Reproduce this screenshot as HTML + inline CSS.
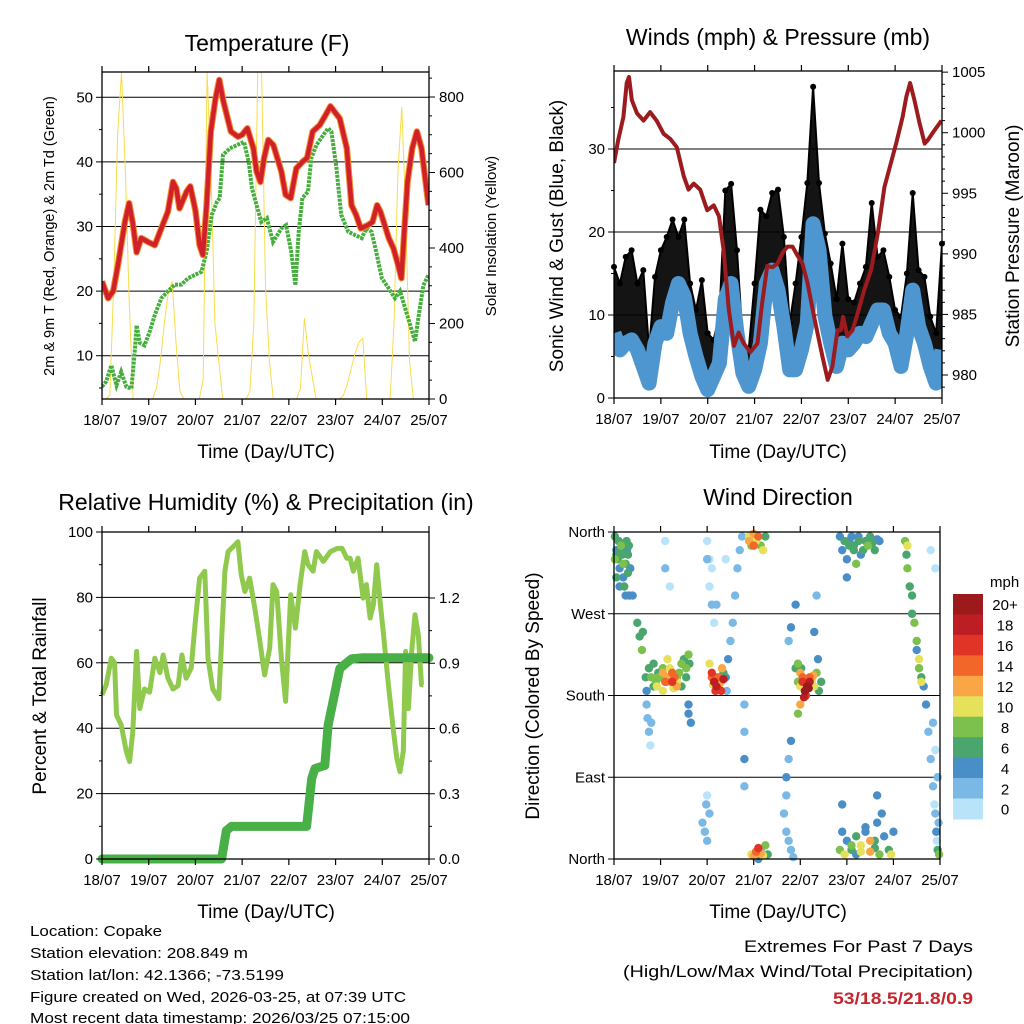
<!DOCTYPE html>
<html><head><meta charset="utf-8"><style>
html,body{margin:0;padding:0;background:#fff;}
svg{display:block;font-family:"Liberation Sans",sans-serif;}
</style></head><body>
<svg id="chart" width="1024" height="1024" viewBox="0 0 1024 1024" xmlns="http://www.w3.org/2000/svg">
<rect width="1024" height="1024" fill="#fff"/>
<g id="layer"></g>
<text x="267" y="51" font-size="23" text-anchor="middle">Temperature (F)</text>
<text x="778" y="45" font-size="23" text-anchor="middle">Winds (mph) &amp; Pressure (mb)</text>
<text x="266" y="510" font-size="23" text-anchor="middle">Relative Humidity (%) &amp; Precipitation (in)</text>
<text x="778" y="505" font-size="23" text-anchor="middle">Wind Direction</text>
<text x="266" y="458" font-size="19" text-anchor="middle">Time (Day/UTC)</text>
<text x="778" y="458" font-size="19" text-anchor="middle">Time (Day/UTC)</text>
<text x="266" y="918" font-size="19" text-anchor="middle">Time (Day/UTC)</text>
<text x="778" y="918" font-size="19" text-anchor="middle">Time (Day/UTC)</text>
<text transform="translate(54,236) rotate(-90)" font-size="14.5" text-anchor="middle">2m &amp; 9m T (Red, Orange) &amp; 2m Td (Green)</text>
<text transform="translate(496,236) rotate(-90)" font-size="15" text-anchor="middle">Solar Insolation (Yellow)</text>
<text transform="translate(563,236) rotate(-90)" font-size="19" text-anchor="middle">Sonic Wind &amp; Gust (Blue, Black)</text>
<text transform="translate(1019,236) rotate(-90)" font-size="19" text-anchor="middle">Station Pressure (Maroon)</text>
<text transform="translate(46,696) rotate(-90)" font-size="19" text-anchor="middle">Percent &amp; Total Rainfall</text>
<text transform="translate(539,696) rotate(-90)" font-size="19" text-anchor="middle">Direction (Colored By Speed)</text>
<g font-size="15">
<text x="30" y="936" textLength="132" lengthAdjust="spacingAndGlyphs">Location: Copake</text>
<text x="30" y="958" textLength="218" lengthAdjust="spacingAndGlyphs">Station elevation: 208.849 m</text>
<text x="30" y="980" textLength="254" lengthAdjust="spacingAndGlyphs">Station lat/lon: 42.1366; -73.5199</text>
<text x="30" y="1002" textLength="376" lengthAdjust="spacingAndGlyphs">Figure created on Wed, 2026-03-25, at 07:39 UTC</text>
<text x="30" y="1023" textLength="380" lengthAdjust="spacingAndGlyphs">Most recent data timestamp: 2026/03/25 07:15:00</text>
</g>
<text x="973" y="952" font-size="17" text-anchor="end" textLength="229" lengthAdjust="spacingAndGlyphs">Extremes For Past 7 Days</text>
<text x="973" y="977" font-size="17" text-anchor="end" textLength="350" lengthAdjust="spacingAndGlyphs">(High/Low/Max Wind/Total Precipitation)</text>
<text x="973" y="1004" font-size="17" font-weight="bold" fill="#c4262e" text-anchor="end" textLength="140" lengthAdjust="spacingAndGlyphs">53/18.5/21.8/0.9</text>
</svg>
<script>
// ---------- data ----------
const dayLabels = ["18/07","19/07","20/07","21/07","22/07","23/07","24/07","25/07"];
const tempTicks = [10,20,30,40,50];
const solarTicks = [0,200,400,600,800];
const windTicks = [0,10,20,30];
const presTicks = [980,985,990,995,1000,1005];
const rhTicks = [0,20,40,60,80,100];
const rainTicks = ["0.0","0.3","0.6","0.9","1.2"];
const dirTicks = ["North","East","South","West","North"];
const speedLabels = ["0","2","4","6","8","10","12","14","16","18","20+"];

const tempTimes = [0,0.13,0.24,0.34,0.49,0.58,0.66,0.74,0.84,0.99,1.13,1.27,1.41,1.52,1.59,1.66,1.81,1.89,2.0,2.09,2.16,2.24,2.33,2.43,2.51,2.6,2.76,2.91,3.0,3.11,3.24,3.31,3.39,3.47,3.56,3.67,3.84,3.93,4.04,4.16,4.29,4.39,4.51,4.66,4.79,4.89,5.09,5.24,5.34,5.44,5.54,5.69,5.79,5.89,5.96,6.03,6.14,6.24,6.34,6.41,6.48,6.54,6.64,6.74,6.84,6.99];
const tempRed = [21.5,18.9,20,24,30.7,33.6,30.5,26,28.2,27.6,27.1,29.7,32.3,36.9,35.9,32.8,35.4,36.2,32.5,27.1,25.6,33.3,44.7,49.8,52.7,49.3,44.7,43.9,44.2,45.2,42.1,38.5,36.9,40.6,43.4,42.6,38.5,34.9,34.4,39,40,40.6,44.7,45.7,47.3,48.6,46.7,42.1,33.3,31.8,29.7,30.2,30.7,33.3,32.3,30.7,28.2,26.6,24,22,30.2,36.9,42.1,44.7,42.1,33.3,36.9,30.2,34.9];
const dewTimes = [0,0.09,0.2,0.31,0.41,0.52,0.63,0.7,0.74,0.81,0.91,1.02,1.13,1.27,1.41,1.56,1.7,1.84,1.99,2.13,2.24,2.35,2.46,2.52,2.59,2.74,2.89,3.04,3.14,3.21,3.31,3.41,3.53,3.66,3.84,3.94,4.05,4.14,4.21,4.29,4.41,4.48,4.59,4.74,4.84,4.91,5.02,5.12,5.27,5.41,5.56,5.66,5.77,5.87,5.99,6.14,6.27,6.38,6.49,6.6,6.7,6.77,6.88,6.99];
const dewGreen = [5.2,6,8.5,5.4,7.5,5.2,4.9,10.6,14.7,12,11.6,13.7,16.3,18.9,20,21,21,22,22.5,23,26.1,31.8,33.8,34.4,41.1,42.1,42.6,43.1,40,35.9,33.3,30.7,31.3,27.6,29.7,30.2,26.1,20.9,29.2,34.4,35.4,40.6,42.6,44.2,45.2,44.7,39,31.8,29.2,28.7,28.2,29.7,29.2,26.1,22,20.4,18.9,20,17.3,14.7,12.2,15.8,20.9,22.5,22];
const solar = [
0,0,10,300,700,866,600,250,0,0,0,0,
0,0,30,100,200,280,311,150,20,0,0,0,
0,0,50,866,600,200,100,0,0,0,0,0,
0,0,20,200,866,866,300,100,0,0,0,0,
0,0,0,30,214,120,60,0,0,0,0,0,
0,0,10,40,80,120,150,161,0,0,0,0,
0,0,0,200,600,774,500,100,0,0,0,0,
0];
const presTimes = [0,0.09,0.2,0.27,0.32,0.38,0.49,0.63,0.77,0.91,1.06,1.2,1.34,1.49,1.59,1.7,1.84,1.99,2.13,2.24,2.34,2.45,2.56,2.66,2.77,2.91,3.06,3.16,3.27,3.38,3.49,3.6,3.7,3.81,3.91,4.02,4.13,4.24,4.34,4.45,4.56,4.66,4.77,4.84,4.89,4.98,5.09,5.2,5.34,5.49,5.63,5.77,5.91,6.02,6.16,6.24,6.32,6.41,6.52,6.63,6.7,6.84,6.99];
const pressure = [997.5,999.4,1001.3,1004.1,1004.6,1002.7,1001.6,1001,1001.7,1001,999.9,999.5,998.8,996.4,995.3,995.8,995.3,993.6,994,993.1,990.3,985.4,982.4,983.5,982.6,981.9,982.6,985.9,989,988.9,989.2,990.1,990.6,990.6,989.9,989.2,987.6,985.4,983.5,981.5,979.6,980.7,983.7,983.7,984.8,983.2,983.7,985.1,987,988.7,991.7,995.5,997.5,999.1,1001.3,1003,1004.1,1002.7,1000.8,999.1,999.4,1000.2,1001];
const windSpeed = [7.8,5.8,6.6,7,5.8,3.8,1.8,6.6,8.6,7.8,11.5,13.8,12.2,7.8,5,2.6,1,2.6,4.2,11.9,13.8,7.8,3,1.4,3.4,6.6,13.8,15.4,13,8.6,3.4,3.4,5.8,9,21,17.8,9.9,6.6,3.8,6.6,5.8,6.6,7.8,7.4,9,10.6,10.6,7.8,6.6,3.8,7.8,13,8.6,6.6,3.8,1.8,5.8];
const windGust = [15.8,13.8,17,17.8,13.8,15.4,5.8,14.6,17.8,19.4,21.5,19.4,21.5,13.8,10.6,14.2,7.8,7,10,25,25.8,17.8,6.6,5.8,13.8,22.7,21.9,24.7,25.1,19.4,9,13.8,19.4,25.9,37.5,25.9,19.8,16.2,11.9,18.6,11.9,11.5,13.8,15.8,23.5,17,17.8,14.6,10.6,9.8,15,24.7,15.4,14.6,9.8,7.8,18.6];
const rhTimes = [0,0.09,0.2,0.27,0.31,0.41,0.52,0.59,0.66,0.74,0.81,0.91,1.02,1.13,1.24,1.31,1.41,1.52,1.63,1.71,1.8,1.91,1.99,2.09,2.2,2.27,2.37,2.5,2.63,2.7,2.84,2.91,2.98,3.06,3.16,3.27,3.38,3.48,3.59,3.66,3.74,3.84,3.93,4.04,4.14,4.24,4.34,4.41,4.52,4.59,4.74,4.89,5.04,5.14,5.24,5.31,5.38,5.48,5.59,5.66,5.74,5.81,5.88,5.96,6.02,6.13,6.24,6.31,6.38,6.45,6.5,6.56,6.63,6.7,6.77,6.84,6.88];
const rh = [50.2,53.3,61.4,60,44,41,32.9,29.8,39,63.5,46,52,51,61.4,57,62.4,55.3,52,53,62.4,55.3,58.4,71.6,85.9,88,61.4,52,49,88,94,96,97,87,81.8,85.9,76.7,66.5,56.3,64.5,83.9,81.8,61.4,48.2,80.8,70.6,83.9,94,90,88,94,91,94,95,95,92,92,88,92,79.8,83.9,73.7,77.8,90,77.8,69.6,53.3,39,30.8,26.7,32.9,63.5,46,63.5,74.7,68.6,53.3,53.3];
const rainTimes = [0,2.56,2.66,2.77,4.38,4.49,4.56,4.77,4.84,4.99,5.09,5.34,5.56,7.0];
const rain = [0,0,0.13,0.15,0.15,0.37,0.416,0.43,0.615,0.77,0.876,0.92,0.925,0.925];
const dirTimes = [0.02,0.05,0.08,0.1,0.12,0.15,0.18,0.2,0.22,0.25,0.28,0.3,0.33,0.02,0.05,0.27,0.12,0.4,
0.5,0.55,0.6,0.62,0.68,0.7,0.75,0.8,0.85,0.9,0.95,0.92,1.0,1.05,1.1,1.15,1.2,1.25,1.3,1.35,1.28,1.4,1.45,1.5,1.55,1.6,1.62,0.7,0.72,0.75,0.78,0.8,1.6,1.6,1.65,
2.05,2.1,2.15,2.2,2.18,2.25,2.3,2.35,2.4,2.42,2.45,2.5,2.55,2.6,2.65,2.7,2.75,
2.9,3.0,3.05,3.1,3.15,3.2,3.25,2.95,2.95,3.0,3.05,3.1,3.15,3.2,3.25,3.3,
1.9,1.95,2.0,2.05,1.98,2.0,
3.9,3.95,4.0,4.05,4.1,4.15,4.2,4.12,4.25,4.3,4.35,4.4,4.45,4.38,4.0,3.95,3.8,3.75,3.7,3.7,3.65,3.7,3.75,3.8,3.85,3.75,3.8,3.9,4.3,4.35,
4.85,4.9,4.95,5.0,5.05,5.1,5.15,5.2,5.25,5.3,5.4,5.45,5.5,5.6,5.7,5.0,
4.85,4.9,4.95,5.0,5.1,5.2,5.3,5.4,5.5,5.6,5.65,5.7,5.75,5.8,5.9,5.95,6.0,4.9,5.65,
6.25,6.3,6.28,6.4,6.45,6.5,6.55,6.6,6.65,6.7,6.75,6.8,6.85,6.9,6.92,6.95,6.98,
1.1,1.1,1.2,2.0,2.05,2.1,2.2,2.4,6.8,6.9,
0.05,0.1,0.15,0.2,0.25,0.85,0.95,1.05,1.15,1.25,1.35,1.45,1.05,1.15,1.25,1.35,1.45,1.55,
2.1,2.15,2.2,2.25,2.3,2.35,2.12,2.22,2.32,2.0,2.05,2.1,2.15,2.9,2.95,3.0,3.05,3.1,3.15,2.8,2.8,2.8,2.8,
4.0,4.05,4.1,4.15,4.2,4.25,4.08,4.18,4.28,3.95,4.02,4.22,5.05,5.15,5.25,5.35,5.55,5.65,5.1,5.2,5.3,5.4,5.5,5.6,
6.3,6.35,6.4,6.5,6.55,6.6,6.85,6.9,6.95,6.88,6.93,6.97,0.3,0.35,0.25,0.32];
const dirDeg = [355,340,330,350,320,345,335,310,300,325,340,315,290,330,310,350,300,290,
260,245,230,250,200,185,210,200,215,195,205,190,200,205,195,200,210,195,200,190,188,205,215,220,210,225,215,170,155,140,125,150,160,170,150,
215,200,195,190,185,200,195,205,200,185,220,240,260,290,320,340,355,
355,358,350,355,345,340,355,345,5,3,8,12,6,4,15,5,
40,30,20,50,60,70,
210,195,190,200,185,190,195,180,200,190,205,185,195,220,170,160,130,110,90,70,50,30,20,10,2,240,255,280,250,290,
355,340,350,330,345,355,340,325,350,335,350,345,355,340,350,310,
10,30,5,20,10,5,15,30,8,20,40,5,50,25,10,5,30,60,70,
350,345,335,290,260,240,220,200,190,170,140,110,80,50,30,10,5,
350,320,300,350,330,320,280,330,340,320,
335,350,340,325,345,190,200,185,195,205,200,190,210,220,205,195,215,200,
205,195,200,190,185,198,192,188,210,330,300,280,260,350,352,345,348,0,10,80,110,140,170,
205,195,185,190,200,195,178,188,202,215,210,190,350,345,355,340,348,352,15,25,8,35,20,12,
320,300,270,230,210,195,150,120,90,60,20,40,335,320,290,345];
const dirSpeed = [6,5,7,6,4,8,6,5,6,7,5,6,4,8,6,6,4,4,
6,6,8,6,6,4,7,8,6,8,7,10,8,12,14,12,10,16,14,12,10,8,6,6,8,8,7,3,2,2,1,2,4,4,4,
10,14,16,18,16,14,12,6,4,3,4,2,2,2,2,2,2,
10,12,10,14,8,10,6,8,10,12,14,16,12,10,8,6,
2,2,3,2,2,1,
6,8,10,14,18,20,18,16,12,10,8,6,6,4,12,8,4,3,4,2,2,3,2,3,2,2,4,4,4,3,
4,4,6,4,6,4,6,8,6,4,6,8,6,6,4,4,
8,4,10,4,6,4,10,4,12,6,4,8,4,4,6,10,4,4,4,
8,10,6,6,8,8,10,6,4,4,3,2,2,2,4,6,8,
0,2,1,1,0,0,2,0,0,1,
6,4,7,8,5,6,8,10,12,14,8,6,9,11,13,10,8,7,
16,18,14,12,16,18,10,14,12,2,1,2,1,12,10,14,8,4,3,2,4,3,2,
12,16,20,18,14,10,18,20,12,8,6,4,4,6,4,6,6,4,8,6,10,4,12,6,
8,6,7,4,8,10,2,1,2,0,1,2,6,4,5,7];
const speedColors = ["#b9e3f8","#7ab8e5","#4a8ec8","#4aa66d","#7cc14e","#e6e15a","#f9a647","#f2662a","#e03427","#bd1e24","#9c1a1c"];

// ---------- helpers ----------
const NS = "http://www.w3.org/2000/svg";
const layer = document.getElementById("layer");
function mk(tag, attrs, parent){
  const e = document.createElementNS(NS, tag);
  for (const k in attrs) e.setAttribute(k, attrs[k]);
  (parent||layer).appendChild(e);
  return e;
}
function lin(d0,d1,r0,r1){ return v => r0 + (v-d0)*(r1-r0)/(d1-d0); }
function pts(xs, ys, fx, fy){ return xs.map((t,i)=>fx(t).toFixed(1)+","+fy(ys[i]).toFixed(1)).join(" "); }

function frame(name){
  const g = mk("g", {});
  
  
  return g;
}
function border(L,R,T,B,name){
  const r = mk("rect",{x:L,y:T,width:R-L,height:B-T,fill:"none",stroke:"#000","stroke-width":1.3});
  
  
  const fx = lin(0,7,L,R);
  for (let d=0; d<=7; d++){
    const x = fx(d);
    mk("line",{x1:x,x2:x,y1:B,y2:B+6,stroke:"#000","stroke-width":1.2});
    mk("line",{x1:x,x2:x,y1:T,y2:T-6,stroke:"#000","stroke-width":1.2});
    const lab = mk("text",{x:x,y:B+26,"font-size":15,"text-anchor":"middle"});
    
    
    lab.textContent = dayLabels[d];
  }
}
function grid(L,R,y){ mk("line",{x1:L,x2:R,y1:y,y2:y,stroke:"#000","stroke-width":1}); }
function leftTick(L,y,label,minor){
  mk("line",{x1:L-(minor?3:6),x2:L,y1:y,y2:y,stroke:"#000","stroke-width":1});
  if(label!==null){
    const t = mk("text",{x:L-9,y:y+5,"font-size":15,"text-anchor":"end"});
    
    
    t.textContent = label;
  }
}
function rightTick(R,y,label,minor){
  mk("line",{x1:R,x2:R+(minor?3:6),y1:y,y2:y,stroke:"#000","stroke-width":1});
  if(label!==null){
    const t = mk("text",{x:R+10,y:y+5,"font-size":15,"text-anchor":"start"});
    
    
    t.textContent = label;
  }
}

// ---------- Panel 1: Temperature ----------
(function(){
  const L=102,R=429,T=72,B=399;
  const fx = lin(0,7,L,R), fy = lin(10,50,355.7,97.3), fs = lin(0,800,399,97);
  frame("temperature");
  const clip = mk("clipPath",{id:"c1"}); mk("rect",{x:L,y:T,width:R-L,height:B-T},clip);
  tempTicks.forEach(v=>grid(L,R,fy(v)));
  const sol = mk("polyline",{points:pts(solar.map((_,i)=>i/12),solar,fx,fs),fill:"none",stroke:"#f9dc4a","stroke-width":1,"clip-path":"url(#c1)"});
  
  
  const dew = mk("polyline",{points:pts(dewTimes,dewGreen,fx,fy),fill:"none",stroke:"#46ad3e","stroke-width":4,"stroke-dasharray":"3 1","clip-path":"url(#c1)"});
  
  
  const or = mk("polyline",{points:pts(tempTimes,tempRed,fx,fy),fill:"none",stroke:"#f58a2e","stroke-width":6.5,"stroke-linejoin":"round","clip-path":"url(#c1)"});
  
  
  const red = mk("polyline",{points:pts(tempTimes,tempRed,fx,fy),fill:"none",stroke:"#d0202a","stroke-width":4.5,"stroke-linejoin":"round","clip-path":"url(#c1)"});
  
  
  tempTicks.forEach(v=>leftTick(L,fy(v),String(v),false));
  for(let v=5; v<=53; v+=10) leftTick(L,fy(v),null,true);
  solarTicks.forEach(v=>rightTick(R,fs(v),String(v),false));
  for(let v=50; v<=850; v+=50) if(v%200) rightTick(R,fs(v),null,true);
  border(L,R,T,B,"temperature");
})();

// ---------- Panel 2: Winds & Pressure ----------
(function(){
  const L=614,R=942,T=71,B=398;
  const fx = lin(0,7,L,R), fy = lin(0,30,398,149), fp = lin(980,1000,375,132.7);
  frame("winds");
  const clip = mk("clipPath",{id:"c2"}); mk("rect",{x:L,y:T,width:R-L,height:B-T},clip);
  windTicks.forEach(v=>grid(L,R,fy(v)));
  const wt = windSpeed.map((_,i)=>i*0.125);
  const top = wt.map((t,i)=>fx(t).toFixed(1)+","+fy(windGust[i]).toFixed(1));
  const bot = wt.map((t,i)=>fx(t).toFixed(1)+","+fy(windSpeed[i]).toFixed(1)).reverse();
  const band = mk("polygon",{points:top.concat(bot).join(" "),fill:"#000","fill-opacity":0.92,stroke:"#000","stroke-width":2,"stroke-linejoin":"round","clip-path":"url(#c2)"});
  
  
  wt.forEach((t,i)=>{
    const c = mk("circle",{cx:fx(t),cy:fy(windGust[i]),r:3,fill:"#000"});
    
    
  });
  const wl = mk("polyline",{points:pts(wt,windSpeed,fx,fy),fill:"none",stroke:"#4e96d0","stroke-width":15,"stroke-linejoin":"round","clip-path":"url(#c2)"});
  
  
  const pl = mk("polyline",{points:pts(presTimes,pressure,fx,fp),fill:"none",stroke:"#9b1b1e","stroke-width":4,"stroke-linejoin":"round","clip-path":"url(#c2)"});
  
  
  windTicks.forEach(v=>leftTick(L,fy(v),String(v),false));
  for(let v=5; v<=35; v+=10) leftTick(L,fy(v),null,true);
  presTicks.forEach(v=>rightTick(R,fp(v),String(v),false));
  for(let v=979; v<=1005; v++) if(v%5) rightTick(R,fp(v),null,true);
  border(L,R,T,B,"winds");
})();

// ---------- Panel 3: RH & Precip ----------
(function(){
  const L=102,R=429,T=532,B=859;
  const fx = lin(0,7,L,R), fy = lin(0,100,859,532), fr = lin(0,1.2,859,598);
  frame("humidity");
  const clip = mk("clipPath",{id:"c3"}); mk("rect",{x:L-6,y:T,width:R-L+12,height:B-T+6},clip);
  [20,40,60,80].forEach(v=>grid(L,R,fy(v)));
  const rl = mk("polyline",{points:pts(rhTimes,rh,fx,fy),fill:"none",stroke:"#8fc94e","stroke-width":5,"stroke-linejoin":"round","clip-path":"url(#c3)"});
  
  
  const pr = mk("polyline",{points:pts(rainTimes,rain,fx,fr),fill:"none",stroke:"#48b047","stroke-width":9,"stroke-linejoin":"round","stroke-linecap":"round","clip-path":"url(#c3)"});
  
  
  rhTicks.forEach(v=>leftTick(L,fy(v),String(v),false));
  for(let v=10; v<=90; v+=20) leftTick(L,fy(v),null,true);
  rainTicks.forEach(v=>rightTick(R,fr(parseFloat(v)),v,false));
  for(let v=0.15; v<1.3; v+=0.3) rightTick(R,fr(v),null,true);
  border(L,R,T,B,"humidity");
})();

// ---------- Panel 4: Wind Direction ----------
(function(){
  const L=614,R=940,T=532,B=859;
  const fx = lin(0,7,L,R), fy = lin(0,360,859,532);
  frame("direction");
  [90,180,270].forEach(v=>grid(L,R,fy(v)));
  const order = dirTimes.map((_,i)=>i).sort((a,b)=>(dirSpeed[a]||0)-(dirSpeed[b]||0));
  order.forEach(i=>{
    const bin = Math.min(10, Math.floor((dirSpeed[i]||0)/2));
    const c = mk("circle",{cx:fx(dirTimes[i]),cy:fy(dirDeg[i]),r:4.2,fill:speedColors[bin]});
    
    
  });
  dirTicks.forEach((lab,i)=>leftTick(L,fy(i*90),lab,false));
  border(L,R,T,B,"direction");
  const cbT=594, cbH=20.45, cbX=953, cbW=30;
  const mph = mk("text",{x:990,y:587,"font-size":15});
  
  
  mph.textContent = "mph";
  for(let k=0;k<11;k++){
    const idx = 10-k, y = cbT + k*cbH;
    const r = mk("rect",{x:cbX,y:y,width:cbW,height:cbH+0.5,fill:speedColors[idx]});
    
    
    const t = mk("text",{x:1005,y:y+cbH/2+6,"font-size":15,"text-anchor":"middle"});
    
    
    t.textContent = speedLabels[idx];
  }
})();
</script>
</body></html>
